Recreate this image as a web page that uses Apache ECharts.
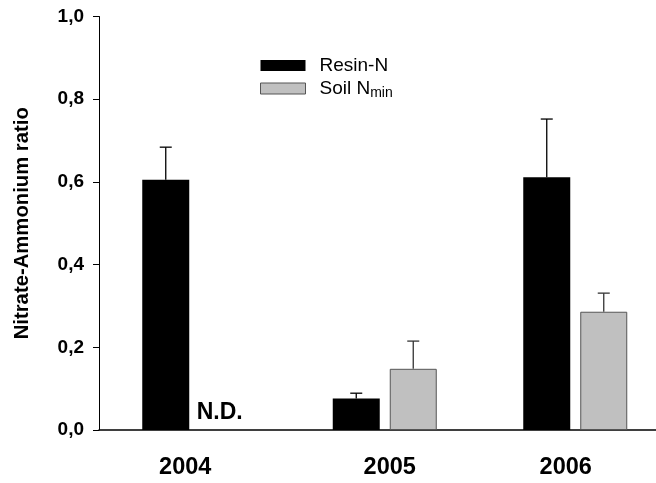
<!DOCTYPE html>
<html>
<head>
<meta charset="utf-8">
<script src="https://cdn.jsdelivr.net/npm/echarts@6/dist/echarts.min.js"></script>
<style>html,body{margin:0;padding:0;background:#fff;}#c{width:656px;height:483px;}</style>
</head>
<body>
<div id="c"></div>
<script>
var years = ['2004', '2005', '2006'];
var resinN = [0.605, 0.076, 0.611];
var resinErr = [0.079, 0.013, 0.141];
var soilN = [null, 0.148, 0.286];
var soilErr = [null, 0.067, 0.045];
var yTicks = [0, 0.2, 0.4, 0.6, 0.8, 1.0];
var naLabel = 'N.D.';

var BAR_W = 47, BAR_GAP = 10;
var FONT = 'Liberation Sans, Arial, Helvetica, sans-serif';

function errSeries(vals, errs, offset, color) {
  var data = [];
  for (var i = 0; i < vals.length; i++) {
    if (vals[i] != null && errs[i] != null) data.push([i, vals[i], errs[i]]);
  }
  return {
    type: 'custom',
    silent: true,
    z: 1,
    data: data,
    encode: { x: 0, y: 1 },
    renderItem: function (params, api) {
      var base = api.coord([api.value(0), api.value(1)]);
      var top = api.coord([api.value(0), api.value(1) + api.value(2)]);
      var x = base[0] + offset;
      var style = { stroke: color, lineWidth: 1.3 };
      return {
        type: 'group',
        children: [
          { type: 'line', shape: { x1: x, y1: base[1], x2: x, y2: top[1] }, style: style },
          { type: 'line', shape: { x1: x - 6, y1: top[1], x2: x + 6, y2: top[1] }, style: style }
        ]
      };
    }
  };
}

var soilData = soilN.map(function (v, i) {
  if (v == null) {
    return {
      value: 0,
      itemStyle: { borderWidth: 0, color: 'rgba(0,0,0,0)' },
      label: { show: true, position: 'top', distance: 6, offset: [-3, 0], formatter: naLabel,
        fontSize: 23, fontWeight: 'bold', color: '#000', fontFamily: FONT }
    };
  }
  return v;
});

var off = (BAR_W + BAR_GAP) / 2;
var labelPad = { '2004': [0, 18, 0, 0], '2005': [0, 0, 0, 10], '2006': [0, 19, 0, 0] };

var chart = echarts.init(document.getElementById('c'), null, { renderer: 'canvas' });
chart.setOption({
  animation: false,
  backgroundColor: '#fff',
  grid: { left: 99, right: -14.5, top: 16.5, bottom: 53, containLabel: false, outerBoundsMode: 'none' },
  legend: {
    orient: 'vertical',
    left: 260, top: 56,
    padding: 0,
    itemWidth: 45, itemHeight: 11, itemGap: 4,
    icon: 'rect',
    selectedMode: false,
    data: [
      { name: 'Resin-N', itemStyle: { color: '#000', borderWidth: 0 } },
      { name: 'Soil Nmin', itemStyle: { color: '#c0c0c0', borderColor: '#555', borderWidth: 1 } }
    ],
    formatter: function (n) { return n === 'Soil Nmin' ? '{t|Soil N}{s|min}' : '{t|' + n + '}'; },
    textStyle: {
      padding: [0, 0, 0, 9],
      rich: {
        t: { fontSize: 19, fontFamily: FONT, color: '#000' },
        s: { fontSize: 14, fontFamily: FONT, color: '#000', padding: [9, 0, 0, 0] }
      }
    }
  },
  xAxis: {
    type: 'category',
    data: years,
    axisLine: { lineStyle: { color: '#000', width: 1.5 } },
    axisTick: { show: false },
    axisLabel: {
      margin: 26,
      formatter: function (v) { return '{a' + v + '|' + v + '}'; },
      rich: (function () {
        var r = {};
        years.forEach(function (y) {
          r['a' + y] = { fontSize: 23.5, fontWeight: 'bold', fontFamily: FONT, color: '#000', padding: labelPad[y] };
        });
        return r;
      })()
    }
  },
  yAxis: {
    type: 'value',
    min: yTicks[0], max: yTicks[yTicks.length - 1], interval: 0.2,
    name: 'Nitrate-Ammonium ratio',
    nameLocation: 'middle',
    nameGap: 67,
    nameTextStyle: { fontSize: 20.3, fontWeight: 'bold', fontFamily: FONT, color: '#000' },
    axisLine: { show: true, lineStyle: { color: '#000', width: 1 } },
    axisTick: { show: true, length: 6, lineStyle: { color: '#000' } },
    splitLine: { show: false },
    axisLabel: {
      margin: 15,
      fontSize: 19, fontWeight: 'bold', fontFamily: FONT, color: '#000',
      formatter: function (v) { return v.toFixed(1).replace('.', ','); }
    }
  },
  series: [
    { name: 'Resin-N', type: 'bar', data: resinN, barWidth: BAR_W, barGap: (BAR_GAP / BAR_W * 100) + '%',
      itemStyle: { color: '#000' }, z: 2 },
    { name: 'Soil Nmin', type: 'bar', data: soilData, barWidth: BAR_W,
      itemStyle: { color: '#c0c0c0', borderColor: '#555', borderWidth: 1 }, z: 2 },
    errSeries(resinN, resinErr, -off, '#000'),
    errSeries(soilN, soilErr, off, '#333')
  ]
});
</script>
</body>
</html>
